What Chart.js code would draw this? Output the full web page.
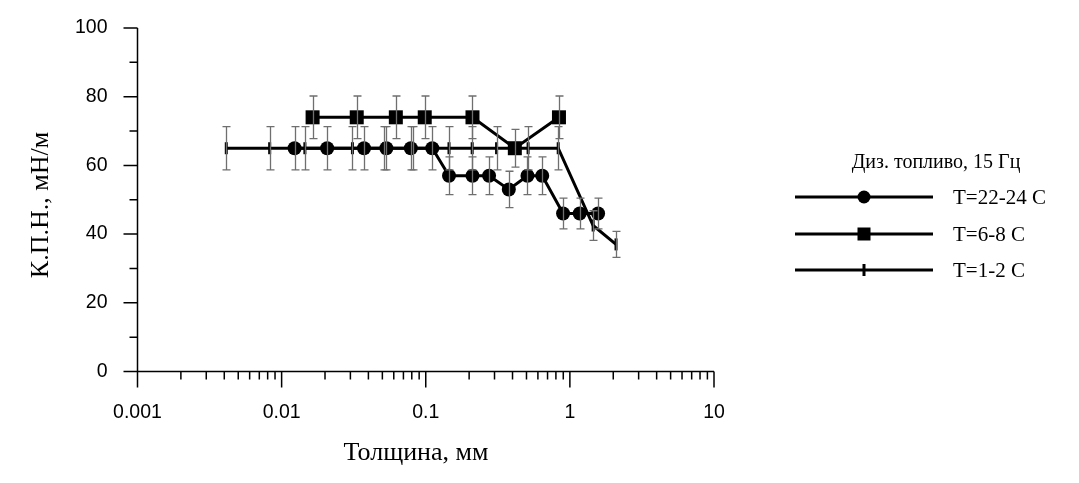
<!DOCTYPE html>
<html><head><meta charset="utf-8">
<script src="https://cdn.jsdelivr.net/npm/chart.js@4.4.0/dist/chart.umd.min.js"></script>
<style>html,body{margin:0;padding:0;background:#fff;}#wrap{width:1079px;height:483px;position:relative;}</style>
</head><body><div id="wrap"><canvas id="c" width="1079" height="483"></canvas></div>
<script>
const xTickValues = [0.001, 0.01, 0.1, 1, 10];
const xTickLabels = ['0.001', '0.01', '0.1', '1', '10'];
const yTickValues = [0, 20, 40, 60, 80, 100];
const xTitle = 'Толщина, мм';
const yTitle = 'К.П.Н., мН/м';
const legendTitle = 'Диз. топливо, 15 Гц';

const s1Name = 'T=22-24 C';
const s1X = [0.0123, 0.0207, 0.0373, 0.0533, 0.0788, 0.111, 0.145, 0.211, 0.275, 0.377, 0.508, 0.643, 0.897, 1.17, 1.57];
const s1Y = [65, 65, 65, 65, 65, 65, 57, 57, 57, 53, 57, 57, 46, 46, 46];
const s1Err = [6.3, 6.3, 6.3, 6.3, 6.3, 6.3, 5.5, 5.5, 5.5, 5.3, 5.5, 5.5, 4.5, 4.5, 4.5];

const s2Name = 'T=6-8 C';
const s2X = [0.0164, 0.0332, 0.062, 0.0984, 0.211, 0.415, 0.84];
const s2Y = [74, 74, 74, 74, 74, 65, 74];
const s2Err = [6.2, 6.2, 6.2, 6.2, 6.2, 5.5, 6.2];

const s3Name = 'T=1-2 C';
const s3X = [0.00413, 0.00826, 0.0145, 0.031, 0.051, 0.081, 0.145, 0.21, 0.31, 0.513, 0.83, 1.45, 2.09];
const s3Y = [65, 65, 65, 65, 65, 65, 65, 65, 65, 65, 65, 42.5, 37];
const s3Err = [6.3, 6.3, 6.3, 6.3, 6.3, 6.3, 6.3, 6.3, 6.3, 6.3, 6.3, 4.3, 3.8];

const series = [
  {name: s1Name, x: s1X, y: s1Y, err: s1Err, style: 'circle'},
  {name: s2Name, x: s2X, y: s2Y, err: s2Err, style: 'rect'},
  {name: s3Name, x: s3X, y: s3Y, err: s3Err, style: 'cross'}
];

const serif = '"Liberation Serif", "Times New Roman", serif';
const sans = '"Liberation Sans", Arial, sans-serif';

function drawMarker(ctx, style, x, y) {
  ctx.save();
  ctx.fillStyle = '#000'; ctx.strokeStyle = '#000';
  if (style === 'circle') {
    ctx.beginPath(); ctx.arc(x, y, 6.5, 0, Math.PI * 2); ctx.fill();
  } else if (style === 'rect') {
    ctx.fillRect(x - 6.5, y - 6.5, 13, 13);
  } else {
    ctx.lineWidth = 3;
    ctx.beginPath(); ctx.moveTo(x, y - 6); ctx.lineTo(x, y + 6); ctx.stroke();
  }
  ctx.restore();
}

const custom = {
  id: 'custom',
  afterDatasetsDraw(chart) {
    const ctx = chart.ctx, xs = chart.scales.x, ys = chart.scales.y;
    ctx.save();
    ctx.strokeStyle = '#6f6f6f'; ctx.lineWidth = 1.3;
    series.forEach(s => {
      s.x.forEach((xv, i) => {
        const px = Math.round(xs.getPixelForValue(xv)) + 0.5;
        const top = ys.getPixelForValue(s.y[i] + s.err[i]);
        const bot = ys.getPixelForValue(s.y[i] - s.err[i]);
        ctx.beginPath();
        ctx.moveTo(px, top); ctx.lineTo(px, bot);
        ctx.moveTo(px - 4, top); ctx.lineTo(px + 4, top);
        ctx.moveTo(px - 4, bot); ctx.lineTo(px + 4, bot);
        ctx.stroke();
      });
    });
    ctx.restore();
  },
  afterDraw(chart) {
    const ctx = chart.ctx, xs = chart.scales.x, ys = chart.scales.y;
    const L = xs.getPixelForValue(xTickValues[0]);
    const R = xs.getPixelForValue(xTickValues[xTickValues.length - 1]);
    const B = ys.getPixelForValue(0), T = ys.getPixelForValue(100);
    ctx.save();
    ctx.strokeStyle = '#000'; ctx.lineWidth = 1.5;
    ctx.beginPath();
    ctx.moveTo(L, T); ctx.lineTo(L, B);
    ctx.moveTo(L, B); ctx.lineTo(R, B);
    for (let v = 0; v <= 100; v += 10) {
      const py = ys.getPixelForValue(v);
      const len = (v % 20 === 0) ? 14 : 8;
      ctx.moveTo(L - len, py); ctx.lineTo(L, py);
    }
    for (let d = 0; d < xTickValues.length; d++) {
      const base = xTickValues[d];
      const px = xs.getPixelForValue(base);
      ctx.moveTo(px, B); ctx.lineTo(px, B + 16);
      if (d < xTickValues.length - 1) {
        for (let k = 2; k <= 9; k++) {
          const pm = xs.getPixelForValue(base * k);
          ctx.moveTo(pm, B); ctx.lineTo(pm, B + 8);
        }
      }
    }
    ctx.stroke();

    ctx.fillStyle = '#000';
    ctx.textAlign = 'center'; ctx.textBaseline = 'middle';
    // axis titles
    ctx.font = '26px ' + serif;
    ctx.fillText(xTitle, 416, 453);
    ctx.save();
    ctx.translate(41, 205); ctx.rotate(-Math.PI / 2);
    ctx.fillText(yTitle, 0, 0);
    ctx.restore();
    // legend
    ctx.font = '20px ' + serif;
    ctx.fillText(legendTitle, 936, 163);
    const rows = [197, 234, 270];
    ctx.font = '21px ' + serif;
    ctx.textAlign = 'left';
    series.forEach((s, i) => {
      const y = rows[i];
      ctx.lineWidth = 3;
      ctx.beginPath(); ctx.moveTo(795, y); ctx.lineTo(933, y); ctx.stroke();
      drawMarker(ctx, s.style, 864, y);
      ctx.fillText(s.name, 953, y + 1);
    });
    ctx.restore();
  }
};

const pointStyles = {circle: 'circle', rect: 'rect', cross: 'line'};
const datasets = series.map(s => ({
  label: s.name,
  data: s.x.map((xv, i) => ({x: xv, y: s.y[i]})),
  showLine: true,
  borderColor: '#000',
  borderWidth: 3,
  backgroundColor: '#000',
  pointStyle: pointStyles[s.style],
  pointRotation: s.style === 'cross' ? 90 : 0,
  pointRadius: s.style === 'rect' ? 9.9 : (s.style === 'cross' ? 6 : 7),
  pointBorderWidth: s.style === 'cross' ? 3 : 0,
  pointBackgroundColor: '#000',
  pointBorderColor: '#000',
  tension: 0,
  clip: false
}));

new Chart(document.getElementById('c'), {
  type: 'scatter',
  data: {datasets},
  options: {
    responsive: false,
    animation: false,
    devicePixelRatio: 1,
    layout: {padding: {left: 0, right: 365, top: 28, bottom: 0}},
    plugins: {legend: {display: false}, tooltip: {enabled: false}},
    scales: {
      x: {
        type: 'logarithmic', min: 0.001, max: 10,
        afterFit: (sc) => { sc.height = 111.5; },
        afterBuildTicks: (sc) => { sc.ticks = xTickValues.map(v => ({value: v})); },
        grid: {display: true, drawOnChartArea: false, color: 'rgba(0,0,0,0)', tickLength: 16},
        border: {display: false},
        ticks: {
          autoSkip: false, maxRotation: 0, padding: 13, color: '#000',
          font: {family: sans, size: 19.5},
          callback: (v) => { const i = xTickValues.indexOf(v); return i >= 0 ? xTickLabels[i] : ''; }
        },
        title: {display: false, text: xTitle}
      },
      y: {
        min: 0, max: 100,
        afterFit: (sc) => { sc.width = 137.5; },
        afterBuildTicks: (sc) => { sc.ticks = yTickValues.map(v => ({value: v})); },
        grid: {display: true, drawOnChartArea: false, color: 'rgba(0,0,0,0)', tickLength: 14},
        border: {display: false},
        ticks: {padding: 16, color: '#000', font: {family: sans, size: 19.5}},
        title: {display: false, text: yTitle}
      }
    }
  },
  plugins: [custom]
});
</script></body></html>
